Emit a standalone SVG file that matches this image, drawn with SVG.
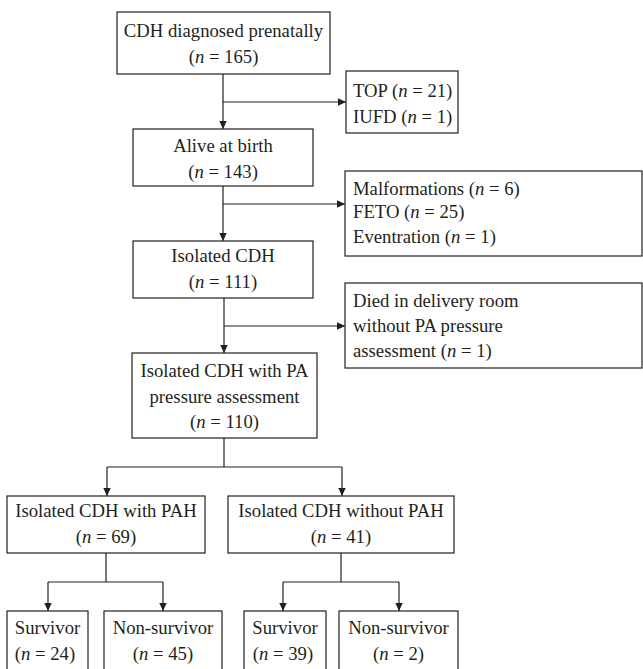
<svg xmlns="http://www.w3.org/2000/svg" width="643" height="669" viewBox="0 0 643 669">
<style>
  .box { fill: #ffffff; stroke: #231f20; stroke-width: 1.2; }
  .t { font-family: "Liberation Serif", "Times New Roman", serif; font-size: 18.7px; fill: #231f20; }
  .c { text-anchor: middle; }
  .i { font-style: italic; }
  .ln { fill: none; stroke: #231f20; stroke-width: 1.2; }
  .ar { fill: none; stroke: #231f20; stroke-width: 1.2; marker-end: url(#ah); }
</style>
<defs>
  <marker id="ah" markerUnits="userSpaceOnUse" markerWidth="9" markerHeight="8" refX="8" refY="4" orient="auto">
    <path d="M0,0.3 L8,4 L0,7.7 z" fill="#231f20"/>
  </marker>
</defs>
<rect width="643" height="669" fill="#ffffff"/>

<g id="connectors">
  <line class="ar" x1="223" y1="74" x2="223" y2="129"/>
  <line class="ar" x1="223" y1="102" x2="346" y2="102"/>
  <line class="ar" x1="223" y1="186" x2="223" y2="241"/>
  <line class="ar" x1="223" y1="204" x2="345" y2="204"/>
  <line class="ar" x1="224" y1="298" x2="224" y2="353"/>
  <line class="ar" x1="224" y1="326" x2="345" y2="326"/>
  <line class="ln" x1="224" y1="438" x2="224" y2="467"/>
  <line class="ln" x1="107" y1="467" x2="342" y2="467"/>
  <line class="ar" x1="107" y1="467" x2="107" y2="496"/>
  <line class="ar" x1="342" y1="467" x2="342" y2="496"/>
  <line class="ln" x1="106" y1="553" x2="106" y2="582"/>
  <line class="ln" x1="48" y1="582" x2="163" y2="582"/>
  <line class="ar" x1="48" y1="582" x2="48" y2="611"/>
  <line class="ar" x1="163" y1="582" x2="163" y2="611"/>
  <line class="ln" x1="341" y1="553" x2="341" y2="582"/>
  <line class="ln" x1="283" y1="582" x2="399" y2="582"/>
  <line class="ar" x1="283" y1="582" x2="283" y2="611"/>
  <line class="ar" x1="399" y1="582" x2="399" y2="611"/>
</g>

<g id="prenatal">
  <rect class="box" x="117" y="12" width="213" height="62"/>
  <text class="t c" x="223.5" y="37">CDH diagnosed prenatally</text>
  <text class="t c" x="223.5" y="63">(<tspan class="i">n</tspan> = 165)</text>
</g>

<g id="top-iufd">
  <rect class="box" x="346" y="71" width="112" height="62"/>
  <text class="t" x="353" y="97">TOP (<tspan class="i">n</tspan> = 21)</text>
  <text class="t" x="353" y="123">IUFD (<tspan class="i">n</tspan> = 1)</text>
</g>

<g id="alive">
  <rect class="box" x="133" y="129" width="180" height="57"/>
  <text class="t c" x="223" y="152">Alive at birth</text>
  <text class="t c" x="223" y="178">(<tspan class="i">n</tspan> = 143)</text>
</g>

<g id="excluded">
  <rect class="box" x="345" y="171" width="297" height="85"/>
  <text class="t" x="353" y="195">Malformations (<tspan class="i">n</tspan> = 6)</text>
  <text class="t" x="353" y="218">FETO (<tspan class="i">n</tspan> = 25)</text>
  <text class="t" x="353" y="243">Eventration (<tspan class="i">n</tspan> = 1)</text>
</g>

<g id="isolated">
  <rect class="box" x="133" y="241" width="180" height="57"/>
  <text class="t c" x="223" y="262">Isolated CDH</text>
  <text class="t c" x="223" y="288">(<tspan class="i">n</tspan> = 111)</text>
</g>

<g id="died">
  <rect class="box" x="345" y="283" width="297" height="85"/>
  <text class="t" x="353" y="307">Died in delivery room</text>
  <text class="t" x="353" y="332">without PA pressure</text>
  <text class="t" x="353" y="357">assessment (<tspan class="i">n</tspan> = 1)</text>
</g>

<g id="assessed">
  <rect class="box" x="132" y="353" width="185" height="85"/>
  <text class="t c" x="224.5" y="377">Isolated CDH with PA</text>
  <text class="t c" x="224.5" y="403">pressure assessment</text>
  <text class="t c" x="224.5" y="428">(<tspan class="i">n</tspan> = 110)</text>
</g>

<g id="with-pah">
  <rect class="box" x="7" y="496" width="198" height="57"/>
  <text class="t c" x="106" y="517">Isolated CDH with PAH</text>
  <text class="t c" x="106" y="543">(<tspan class="i">n</tspan> = 69)</text>
</g>

<g id="without-pah">
  <rect class="box" x="228" y="496" width="226" height="57"/>
  <text class="t c" x="341" y="517">Isolated CDH without PAH</text>
  <text class="t c" x="341" y="543">(<tspan class="i">n</tspan> = 41)</text>
</g>

<g id="pah-survivor">
  <rect class="box" x="7" y="611" width="81" height="70"/>
  <text class="t c" x="47.5" y="634">Survivor</text>
  <text class="t c" x="45" y="660">(<tspan class="i">n</tspan> = 24)</text>
</g>

<g id="pah-nonsurvivor">
  <rect class="box" x="104" y="611" width="118" height="70"/>
  <text class="t c" x="163" y="634">Non-survivor</text>
  <text class="t c" x="163" y="660">(<tspan class="i">n</tspan> = 45)</text>
</g>

<g id="nopah-survivor">
  <rect class="box" x="244" y="611" width="82" height="70"/>
  <text class="t c" x="285" y="634">Survivor</text>
  <text class="t c" x="283" y="660">(<tspan class="i">n</tspan> = 39)</text>
</g>

<g id="nopah-nonsurvivor">
  <rect class="box" x="339" y="611" width="119" height="70"/>
  <text class="t c" x="398.5" y="634">Non-survivor</text>
  <text class="t c" x="398.5" y="660">(<tspan class="i">n</tspan> = 2)</text>
</g>
</svg>
